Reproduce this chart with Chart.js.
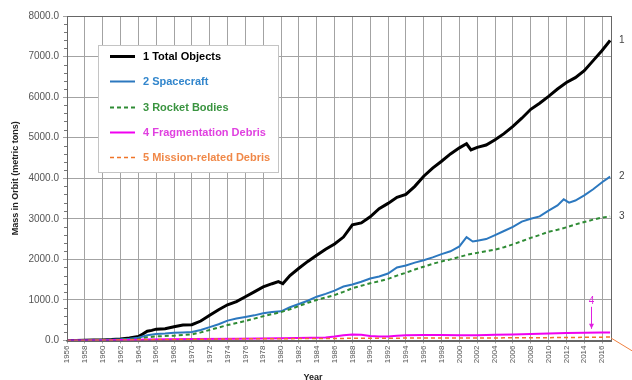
<!DOCTYPE html>
<html>
<head>
<meta charset="utf-8">
<script src="https://cdn.jsdelivr.net/npm/chart.js@4/dist/chart.umd.min.js"></script>
<style>
  html, body { margin: 0; padding: 0; background: #fff; }
  canvas { display: block; }
</style>
</head>
<body>
<canvas id="chart" width="632" height="380"></canvas>
<script>
// Mass in orbit by object type (metric tons), by year
const totalYears = [1956,1957,1958,1959,1960,1961,1962,1963,1964,1964.5,1965,1965.5,1966,1967,1968,1969,1970,1971,1972,1973,1974,1975,1976,1977,1978,1979,1979.7,1980.2,1981,1982,1983,1984,1985,1986,1987,1988,1989,1990,1991,1992,1993,1994,1995,1996,1997,1998,1999,2000,2000.8,2001.3,2002,2003,2004,2005,2006,2007,2008,2009,2010,2011,2012,2013,2014,2015,2016,2016.9];
const totalMass  = [0,0,5,10,15,25,40,60,100,160,230,250,280,290,340,380,390,480,620,760,880,960,1080,1200,1320,1400,1450,1400,1600,1780,1950,2100,2250,2380,2550,2850,2900,3050,3250,3380,3530,3600,3800,4050,4250,4420,4600,4750,4850,4700,4760,4820,4950,5100,5280,5480,5700,5850,6020,6200,6360,6480,6650,6900,7150,7400];

const spacecraftYears = [1956,1958,1960,1961,1962,1963,1964,1965,1966,1967,1968,1969,1970,1971,1972,1973,1974,1975,1976,1977,1978,1979,1980,1981,1982,1983,1984,1985,1986,1987,1988,1989,1990,1991,1992,1993,1994,1995,1996,1997,1998,1999,2000,2000.8,2001.5,2002,2003,2004,2005,2006,2007,2008,2009,2010,2011,2011.7,2012.3,2013,2014,2015,2016,2016.9];
const spacecraftMass  = [0,3,12,20,30,45,70,130,160,170,190,200,210,260,330,400,490,540,580,620,670,700,720,820,900,980,1080,1150,1230,1330,1380,1450,1530,1580,1650,1800,1850,1920,1980,2050,2130,2200,2320,2550,2440,2460,2500,2600,2700,2800,2930,3000,3060,3200,3330,3480,3400,3450,3580,3730,3900,4040];

const rocketYears = [1956,1958,1960,1962,1963,1964,1965,1966,1968,1970,1971,1972,1973,1974,1975,1976,1977,1978,1979,1980,1981,1982,1983,1984,1985,1986,1987,1988,1989,1990,1991,1992,1993,1994,1995,1996,1997,1998,1999,2000,2001,2002,2003,2004,2005,2006,2007,2008,2009,2010,2011,2012,2013,2014,2015,2016,2016.9];
const rocketMass  = [0,2,5,15,25,40,80,100,120,150,200,260,320,380,430,480,540,600,650,700,770,850,930,1000,1060,1120,1200,1290,1350,1410,1460,1520,1600,1670,1750,1820,1890,1950,2000,2060,2120,2160,2200,2240,2300,2370,2450,2530,2600,2680,2730,2790,2860,2920,2980,3030,3060];

const fragYears = [1956,1960,1961,1962,1963,1965,1970,1975,1980,1985,1986,1987,1988,1989,1990,1991,1992,1993,1994,1996,1998,2000,2002,2004,2006,2008,2010,2012,2014,2016,2016.9];
const fragMass  = [0,0,5,10,15,25,35,45,55,75,100,130,150,140,110,100,100,120,130,135,135,130,130,140,150,160,175,185,190,195,200];

const missionYears = [1956,1960,1965,1970,1975,1980,1985,1990,1995,2000,2005,2010,2015,2016.9];
const missionMass  = [0,5,20,30,40,45,50,55,60,60,65,70,80,85];

const seriesLabels = ['1 Total Objects','2 Spacecraft','3 Rocket Bodies','4 Fragmentation Debris','5 Mission-related Debris'];
const seriesTags = ['1','2','3','4','5'];
const yTickStep = 1000;
const xTickStep = 2;

const FONT = '"Liberation Sans", Arial, sans-serif';

function pts(xs, ys) { return xs.map((x, i) => ({ x: x, y: ys[i] })); }

const styles = [
  { color: '#000000', text: '#000000', width: 3,   dash: [] },
  { color: '#2c78bf', text: '#3286cc', width: 2,   dash: [] },
  { color: '#2e8b34', text: '#3a9440', width: 2,   dash: [4, 3] },
  { color: '#f000f0', text: '#e040e0', width: 2,   dash: [] },
  { color: '#f07428', text: '#f08848', width: 1.5, dash: [4, 3] }
];
const sets = [
  pts(totalYears, totalMass),
  pts(spacecraftYears, spacecraftMass),
  pts(rocketYears, rocketMass),
  pts(fragYears, fragMass),
  pts(missionYears, missionMass)
];

// draw order: small series first so the total sits on top
const order = [4, 3, 2, 1, 0];
const datasets = order.map(i => ({
  label: seriesLabels[i],
  data: sets[i],
  borderColor: styles[i].color,
  borderWidth: styles[i].width,
  borderDash: styles[i].dash,
  pointRadius: 0,
  tension: 0,
  fill: false
}));

const decorations = {
  id: 'decorations',
  beforeDraw(chart) {
    const c = chart.ctx;
    c.save();
    c.fillStyle = '#fff';
    c.fillRect(0, 0, chart.width, chart.height);
    c.restore();
  },
  afterDatasetsDraw(chart) {
    const c = chart.ctx;
    const a = chart.chartArea;
    const xs = chart.scales.x, ys = chart.scales.y;
    c.save();

    // frame of the plot
    c.strokeStyle = '#666';
    c.lineWidth = 1;
    c.strokeRect(Math.round(a.left) + 0.5, Math.round(a.top) + 0.5, Math.round(a.right - a.left), Math.round(a.bottom - a.top));

    // minor ticks on the value axis
    c.strokeStyle = '#777';
    for (let v = 0; v <= ys.max; v += yTickStep / 5) {
      if (v % yTickStep === 0) continue;
      const y = Math.round(ys.getPixelForValue(v)) + 0.5;
      c.beginPath(); c.moveTo(a.left - 3, y); c.lineTo(a.left, y); c.stroke();
    }

    // end-of-line tags 1..3
    c.fillStyle = '#444';
    c.font = '10px ' + FONT;
    c.textAlign = 'left';
    c.textBaseline = 'middle';
    [0, 1, 2].forEach(i => {
      const last = sets[i][sets[i].length - 1];
      c.fillText(seriesTags[i], a.right + 8, ys.getPixelForValue(last.y));
    });

    // tag 4: arrow down onto the fragmentation debris line
    const frag = sets[3];
    const fp = frag[frag.length - 3];
    const fx = Math.round(xs.getPixelForValue(fp.x + 0.8)) + 0.5;
    const tip = ys.getPixelForValue(fp.y) - 4;
    c.strokeStyle = '#e020e0';
    c.fillStyle = '#e020e0';
    c.lineWidth = 1;
    c.setLineDash([]);
    c.beginPath(); c.moveTo(fx, tip - 22); c.lineTo(fx, tip); c.stroke();
    c.beginPath(); c.moveTo(fx, tip); c.lineTo(fx - 2.5, tip - 5); c.lineTo(fx + 2.5, tip - 5); c.closePath(); c.fill();
    c.font = '10px ' + FONT;
    c.textAlign = 'center';
    c.fillText(seriesTags[3], fx, tip - 28);

    // tag 5 leader running off to the right
    const mLast = sets[4][sets[4].length - 1];
    const mx = xs.getPixelForValue(mLast.x), my = ys.getPixelForValue(mLast.y);
    c.strokeStyle = '#f08040';
    c.beginPath(); c.moveTo(mx + 1, my + 1); c.lineTo(mx + 24, my + 15); c.stroke();

    // legend box
    const lx = 98, ly = 45, lw = 180, lh = 127;
    c.fillStyle = '#fff';
    c.fillRect(lx, ly, lw, lh);
    c.strokeStyle = '#c4c4c4';
    c.strokeRect(lx + 0.5, ly + 0.5, lw, lh);
    c.font = 'bold 11px ' + FONT;
    c.textAlign = 'left';
    c.textBaseline = 'middle';
    for (let i = 0; i < 5; i++) {
      const y = Math.round(ly + 11 + i * 25.25) + 0.5;
      c.strokeStyle = styles[i].color;
      c.lineWidth = styles[i].width;
      c.setLineDash(styles[i].dash);
      c.beginPath(); c.moveTo(lx + 12, y); c.lineTo(lx + 37, y); c.stroke();
      c.setLineDash([]);
      c.fillStyle = styles[i].text;
      c.fillText(seriesLabels[i], lx + 45, y);
    }

    // axis titles
    c.fillStyle = '#222';
    c.font = 'bold 9px ' + FONT;
    c.textAlign = 'center';
    c.textBaseline = 'middle';
    c.save();
    c.translate(16, (a.top + a.bottom) / 2);
    c.rotate(-Math.PI / 2);
    c.fillText('Mass in Orbit (metric tons)', 0, 0);
    c.restore();
    c.fillText('Year', 313, 378);

    c.restore();
  }
};

new Chart(document.getElementById('chart'), {
  type: 'line',
  data: { datasets: datasets },
  options: {
    responsive: false,
    animation: false,
    devicePixelRatio: 1,
    layout: { padding: { left: 0, right: 21, top: 16, bottom: 0 } },
    plugins: { legend: { display: false }, tooltip: { enabled: false } },
    scales: {
      x: {
        type: 'linear',
        min: 1956,
        max: 2017,
        afterBuildTicks(scale) {
          const t = [];
          for (let v = 1956; v <= 2016; v += xTickStep) t.push({ value: v });
          scale.ticks = t;
        },
        afterFit(scale) { scale.height = 39.5; },
        ticks: {
          autoSkip: false,
          minRotation: 90,
          maxRotation: 90,
          padding: 2,
          color: '#555',
          font: { family: FONT, size: 8 },
          callback: v => String(v)
        },
        grid: { color: '#a3a3a3', lineWidth: 1, tickLength: 3, drawTicks: true },
        border: { color: '#666', width: 1.5 }
      },
      y: {
        min: 0,
        max: 8000,
        afterFit(scale) { scale.width = 67; },
        ticks: {
          stepSize: yTickStep,
          padding: 4,
          color: '#555',
          font: { family: FONT, size: 10 },
          callback: v => Number(v).toFixed(1)
        },
        grid: { color: '#a3a3a3', lineWidth: 1, tickLength: 4 },
        border: { color: '#666', width: 1 }
      }
    }
  },
  plugins: [decorations]
});
</script>
</body>
</html>
